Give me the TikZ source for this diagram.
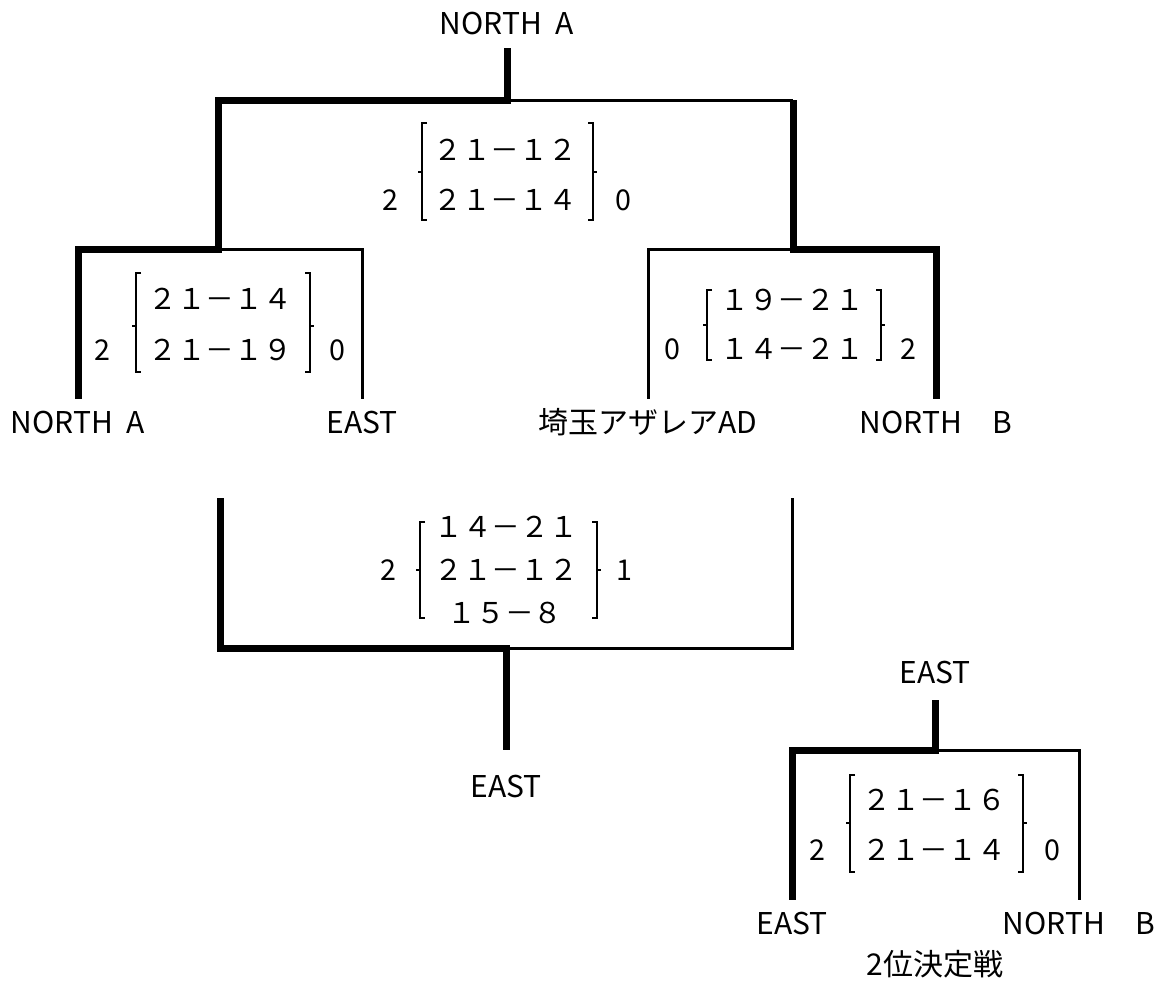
\documentclass[tikz,border=0pt]{standalone}
\usepackage{fontspec}
\setmainfont{Noto Sans CJK JP}

\begin{document}
\begin{tikzpicture}[x=0.75pt,y=-0.75pt,
  every node/.style={font=\fontsize{21.5pt}{25pt}\selectfont, inner sep=0pt, text height=15.5pt, text depth=0pt},
  equipo/.style={font=\fontsize{22.5pt}{26pt}\selectfont, text height=16.5pt, minimum height=34.5pt},
  gana/.style={line width=5.25pt},
  pierde/.style={line width=2.25pt},
  llave/.style={line width=1pt}]
\useasboundingbox (0,0) rectangle (1169,986);

% final
\node[equipo, minimum height=37.5pt] (campeon) at (507,23) {NORTH\ \ A};
\coordinate (final) at (507,100);
\coordinate (finalder) at (793,100);
\coordinate (semiizq) at (218,249);
\coordinate (semider) at (793,249);

% semifinales
\node[equipo] (northa) at (78,422) {NORTH\ \ A};
\node[equipo] (east) at (362,422) {EAST};
\node[equipo] (saitama) at (648,422) {埼玉アザレアAD};
\node[equipo] (northb) at (936,422) {NORTH　B};

\draw[gana] (campeon) -- (final) -| (semiizq) -| (northa);
\draw[gana] (northb) |- (semider) -- (finalder);
\draw[pierde] (final) -- (finalder);
\draw[pierde] (semiizq) -| (east);
\draw[pierde] (semider) -| (saitama);

% marcador final
\node (f1) at (505,150) {２１－１２};
\node (f2) at (505,200) {２１－１４};
\node (fa) at (390,200) {2};
\node (fb) at (623,200) {0};
\draw[llave] (427,123) -- (422,123) -- (422,220) -- (427,220) (422,172) -- (418,172);
\draw[llave] (588,123) -- (593,123) -- (593,220) -- (588,220) (593,172) -- (597,172);

% marcador semifinal izquierda
\node (s1) at (220,299) {２１－１４};
\node (s2) at (220,350) {２１－１９};
\node (sa) at (102,350) {2};
\node (sb) at (337,350) {0};
\draw[llave] (141,273) -- (136,273) -- (136,372) -- (141,372) (136,326) -- (132,326);
\draw[llave] (305,273) -- (310,273) -- (310,372) -- (305,372) (310,326) -- (314,326);

% marcador semifinal derecha
\node (t1) at (792,300) {１９－２１};
\node (t2) at (792,349) {１４－２１};
\node (ta) at (672,349) {0};
\node (tb) at (908,349) {2};
\draw[llave] (712,290) -- (707,290) -- (707,360) -- (712,360) (707,325) -- (703,325);
\draw[llave] (876,290) -- (881,290) -- (881,360) -- (876,360) (881,325) -- (885,325);

% 3er puesto
\coordinate (terizq) at (220,498);
\coordinate (terder) at (792,498);
\coordinate (tercero) at (506,648);
\node[equipo, minimum height=54pt] (easttres) at (506,786) {EAST};
\draw[gana] (terizq) |- (tercero) -- (easttres);
\draw[pierde] (terder) |- (tercero);

\node (c1) at (506,527) {１４－２１};
\node (c2) at (506,570) {２１－１２};
\node (c3) at (505,613) {１５－８};
\node (ca) at (388,570) {2};
\node (cb) at (624,570) {1};
\draw[llave] (425,522) -- (420,522) -- (420,618) -- (425,618) (420,570) -- (416,570);
\draw[llave] (592,522) -- (597,522) -- (597,618) -- (592,618) (597,570) -- (601,570);

% 2位決定戦
\node[equipo, minimum height=42pt] (eastdos) at (935,672) {EAST};
\coordinate (segundo) at (935,750);
\node[equipo] (eastb) at (792,923) {EAST};
\node[equipo] (northbb) at (1079,923) {NORTH　B};
\node[equipo] (titulo) at (935,964) {2位決定戦};
\draw[gana] (eastb) |- (segundo) -- (eastdos);
\draw[pierde] (segundo) -| (northbb);

\node (d1) at (934,800) {２１－１６};
\node (d2) at (934,850) {２１－１４};
\node (da) at (817,850) {2};
\node (db) at (1052,850) {0};
\draw[llave] (855,775) -- (850,775) -- (850,872) -- (855,872) (850,823) -- (846,823);
\draw[llave] (1018,775) -- (1023,775) -- (1023,872) -- (1018,872) (1023,823) -- (1027,823);
\end{tikzpicture}
\end{document}
